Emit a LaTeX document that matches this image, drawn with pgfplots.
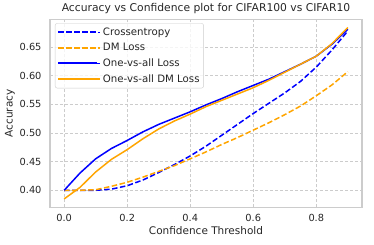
\documentclass[border=0pt]{standalone}
\usepackage{fontspec}
\setmainfont{DejaVu Sans}
\usepackage{pgfplots}
\pgfplotsset{compat=1.18}
\definecolor{txt}{gray}{0.15}
\definecolor{frm}{gray}{0.8}
\definecolor{mplorange}{RGB}{255,165,0}
\definecolor{mplblue}{RGB}{0,0,255}
\begin{document}
\begin{tikzpicture}
\begin{axis}[
  scale only axis, width=312bp, height=188bp,
  xmin=-0.045, xmax=0.945, ymin=0.370, ymax=0.698,
  xtick={0,0.2,0.4,0.6,0.8}, xticklabels={0.0,0.2,0.4,0.6,0.8},
  ytick={0.40,0.45,0.50,0.55,0.60,0.65}, yticklabels={0.40,0.45,0.50,0.55,0.60,0.65},
  major tick length=0pt,
  tick label style={font=\fontsize{9.8bp}{12bp}\selectfont, text=txt},
  xticklabel style={yshift=-3bp},
  yticklabel style={xshift=-5bp},
  grid=major,
  grid style={dashed, color=frm, line width=0.7bp, dash pattern=on 3bp off 2bp},
  axis line style={frm, line width=1.1bp},
  xlabel={Confidence Threshold}, ylabel={Accuracy},
  label style={font=\fontsize{10.5bp}{12bp}\selectfont, text=txt},
  xlabel style={yshift=2bp},
  ylabel style={yshift=-2bp},
  title={Accuracy vs Confidence plot for CIFAR100 vs CIFAR10},
  title style={font=\fontsize{10.75bp}{12bp}\selectfont, text=txt, yshift=-4bp},
  legend style={at={(0.016,0.98)}, anchor=north west, draw=frm, rounded corners=2bp,
    fill=white, fill opacity=0.8, text opacity=1, text=txt,
    font=\fontsize{10.2bp}{12bp}\selectfont, row sep=2.4bp, inner xsep=2bp, inner ysep=2.5bp},
  legend cell align=left,
  legend image code/.code={\draw[#1, line width=2bp] (0bp,0bp) -- (39bp,0bp); \path (0bp,0bp) -- (42bp,0bp);},
]
\addplot[mplblue, line width=1.5bp, dash pattern=on 5.5bp off 2.5bp] coordinates {
(0,0.400)(0.05,0.400)(0.1,0.400)(0.15,0.402)(0.2,0.408)(0.25,0.418)(0.3,0.431)(0.35,0.445)(0.4,0.460)(0.45,0.477)(0.5,0.496)(0.55,0.515)(0.6,0.534)(0.65,0.552)(0.7,0.570)(0.75,0.590)(0.8,0.615)(0.85,0.645)(0.9,0.678)};
\addlegendentry{Crossentropy}
\addplot[mplorange, line width=1.5bp, dash pattern=on 5.5bp off 2.5bp] coordinates {
(0,0.400)(0.05,0.400)(0.1,0.401)(0.15,0.407)(0.2,0.414)(0.25,0.423)(0.3,0.433)(0.35,0.443)(0.4,0.455)(0.45,0.467)(0.5,0.480)(0.55,0.492)(0.6,0.505)(0.65,0.518)(0.7,0.532)(0.75,0.547)(0.8,0.565)(0.85,0.584)(0.9,0.607)};
\addlegendentry{DM Loss}
\addplot[mplblue, line width=1.5bp] coordinates {
(0,0.400)(0.05,0.430)(0.1,0.455)(0.15,0.473)(0.2,0.487)(0.25,0.502)(0.3,0.515)(0.35,0.526)(0.4,0.537)(0.45,0.549)(0.5,0.560)(0.55,0.572)(0.6,0.583)(0.65,0.594)(0.7,0.607)(0.75,0.620)(0.8,0.634)(0.85,0.655)(0.9,0.681)};
\addlegendentry{One-vs-all Loss}
\addplot[mplorange, line width=1.5bp] coordinates {
(0,0.385)(0.05,0.405)(0.1,0.432)(0.15,0.454)(0.2,0.471)(0.25,0.490)(0.3,0.507)(0.35,0.521)(0.4,0.533)(0.45,0.546)(0.5,0.557)(0.55,0.568)(0.6,0.579)(0.65,0.592)(0.7,0.606)(0.75,0.620)(0.8,0.634)(0.85,0.656)(0.9,0.684)};
\addlegendentry{One-vs-all DM Loss}
\end{axis}
\pgfresetboundingbox
\path ([xshift=-50bp,yshift=-37.5bp]current axis.south west) rectangle ([xshift=12bp,yshift=19.5bp]current axis.north east);
\end{tikzpicture}
\end{document}
